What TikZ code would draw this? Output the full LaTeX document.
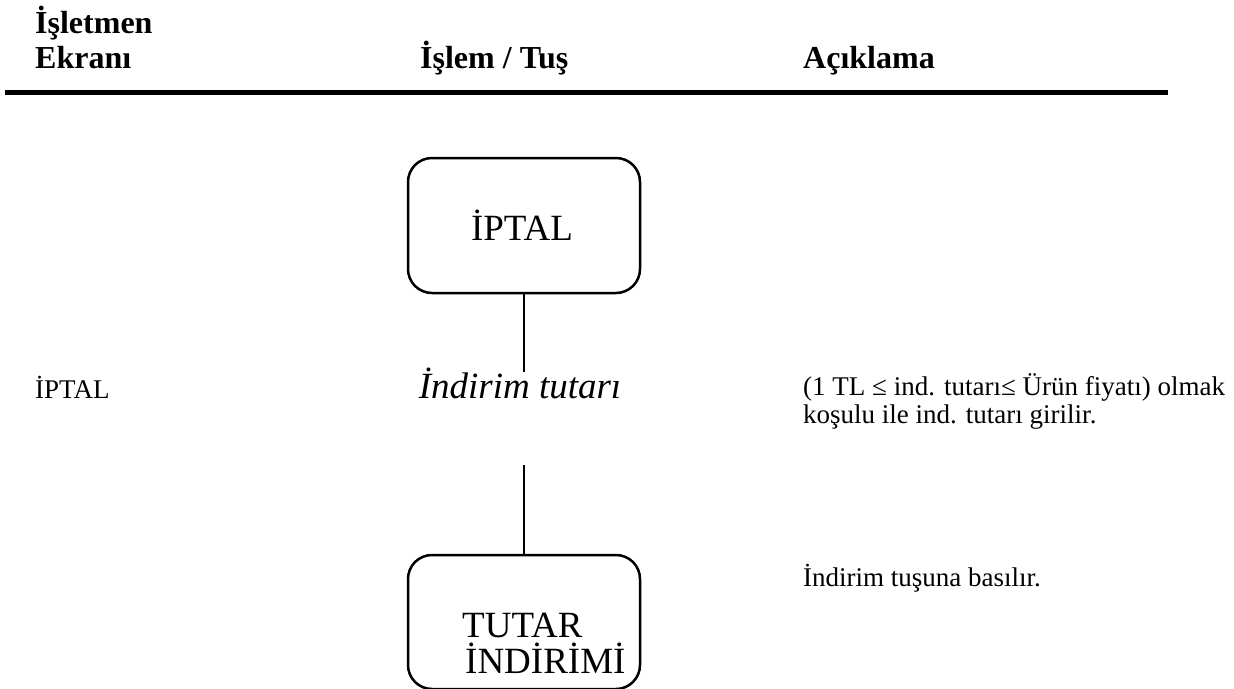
\documentclass[tikz,border=0pt]{standalone}
\usepackage{fontspec}
\setmainfont{Liberation Serif}
\begin{document}
\begin{tikzpicture}[x=1pt,y=-1pt,
  hdr/.style={anchor=base west, inner sep=0pt, font=\fontsize{32}{38}\selectfont\bfseries},
  keybox/.style={draw, line width=2.5pt, rounded corners=24pt, minimum width=232pt, inner sep=0pt},
  boxtxt/.style={font=\fontsize{37}{42}\selectfont},
  small/.style={anchor=base west, inner sep=0pt, font=\fontsize{27}{31}\selectfont},
  conn/.style={line width=2pt}]
\useasboundingbox (0,0) rectangle (1234,688);
% header
\node[hdr] (h1) at (35,33) {İşletmen};
\node[hdr] (h2) at (35,68) {Ekranı};
\node[hdr] (h3) at (420,68) {İşlem / Tuş};
\node[hdr] (h4) at (803,68) {Açıklama};
\coordinate (l1) at (5,92);
\coordinate (l2) at (1168,92);
\draw[line width=5pt] (l1) -- (l2);
% boxes
\node[keybox, minimum height=135pt] (iptal) at (524,225.5) {};
\node[boxtxt, anchor=base, inner sep=0pt] (iptaltxt) at (522,240) {İPTAL};
\node[keybox, minimum height=134pt] (tutar) at (524,622) {};
\node[boxtxt, anchor=base west, inner sep=0pt] (tt1) at (462,637) {TUTAR};
\node[boxtxt, anchor=base west, inner sep=0pt] (tt2) at (465,673) {İNDİRİMİ};
\node[anchor=base, inner sep=0pt, font=\fontsize{37}{42}\selectfont\itshape] (ind) at (520,398) {İndirim tutarı};
\coordinate (c1) at (524,372);
\coordinate (c2) at (524,465);
\draw[conn] (iptal.south) -- (c1);
\draw[conn] (c2) -- (tutar.north);
% side texts
\node[small] (s1) at (35,398) {İPTAL};
\node[small] (r1) at (803,395) {(1 TL ≤ ind. tutarı≤ Ürün fiyatı) olmak};
\node[small] (r2) at (803,423) {koşulu ile ind. tutarı girilir.};
\node[small] (r3) at (803,586) {İndirim tuşuna basılır.};
\end{tikzpicture}
\end{document}
